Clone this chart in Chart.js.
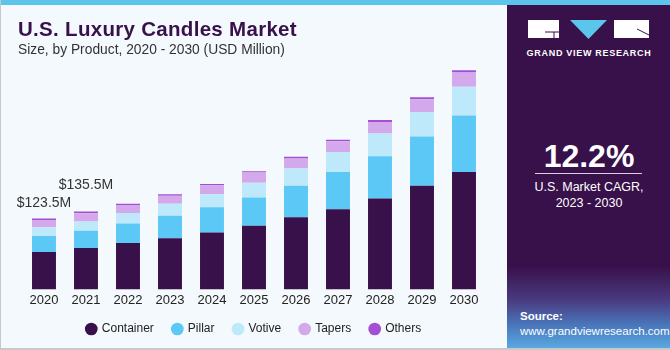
<!DOCTYPE html>
<html>
<head>
<meta charset="utf-8">
<script src="https://cdn.jsdelivr.net/npm/chart.js@4/dist/chart.umd.min.js"></script>
<style>
  html,body{margin:0;padding:0;}
  body{width:670px;height:350px;overflow:hidden;font-family:"Liberation Sans",Arial,sans-serif;}
  #wrap{position:relative;width:670px;height:350px;background:#f4f9fd;box-sizing:border-box;border-left:1px solid #c8c8c8;border-bottom:2px solid #c8c8c8;}
  #stripe{position:absolute;left:0;top:0;width:670px;height:5px;background:#5bc5ec;}
  #title{position:absolute;left:17px;top:17px;font-family:"Liberation Sans",Arial,sans-serif;font-weight:bold;font-size:20.5px;color:#38104a;letter-spacing:0.3px;}
  #sub{position:absolute;left:17px;top:42px;font-size:13.8px;color:#333;}
  #panel{position:absolute;left:506px;top:5px;width:164px;height:343px;background:linear-gradient(to bottom,#38104a 0%,#38104a 76%,#4a3a80 86%,#4a7cc0 94%,#5aa8e0 100%);}
  #chartbox{position:absolute;left:0;top:0;width:505px;height:348px;}
  .w{position:absolute;color:#fff;}
</style>
</head>
<body>
<div id="wrap">
  <div id="chartbox"><canvas id="c" width="505" height="348"></canvas></div>
  <div id="stripe"></div>
  <div id="title">U.S. Luxury Candles Market</div>
  <div id="sub">Size, by Product, 2020 - 2030 (USD Million)</div>
  <div id="panel">
    <svg width="164" height="60" style="position:absolute;left:0;top:0">
      <rect x="21" y="15" width="31" height="18" fill="#fff"/>
      <line x1="38" y1="27" x2="52" y2="27" stroke="#38104a" stroke-width="1"/>
      <line x1="47" y1="27" x2="47" y2="33" stroke="#38104a" stroke-width="1"/>
      <polygon points="63,15 100,15 81.5,34" fill="#5bc5ec"/>
      <rect x="107" y="15" width="35" height="18" fill="#fff"/>
      <line x1="130" y1="24" x2="142" y2="30" stroke="#38104a" stroke-width="1"/>
    </svg>
    <div class="w" style="left:0;width:164px;top:43px;text-align:center;font-size:9px;font-weight:bold;letter-spacing:0.7px;">GRAND VIEW RESEARCH</div>
    <div class="w" style="left:0;width:164px;top:133px;text-align:center;font-size:32px;font-weight:bold;">12.2%</div>
    <div style="position:absolute;left:28px;width:107px;top:168px;height:1px;background:#d8cfe0;"></div>
    <div class="w" style="left:0;width:164px;top:174px;text-align:center;font-size:12.5px;line-height:16px;">U.S. Market CAGR,<br>2023 - 2030</div>
    <div class="w" style="left:13px;top:305px;font-size:11.5px;font-weight:bold;">Source:</div>
    <div class="w" style="left:13px;top:320px;font-size:11.5px;">www.grandviewresearch.com</div>
  </div>
</div>
<script>
const years = ["2020","2021","2022","2023","2024","2025","2026","2027","2028","2029","2030"];
const container = [65.2, 72.0, 80.6, 89.2, 99.0, 111.0, 125.7, 139.4, 158.3, 180.6, 204.6];
const pillar    = [28.0, 30.3, 34.3, 38.9, 43.9, 49.0, 54.9, 65.2, 73.7, 85.8, 98.4];
const votive    = [15.0, 16.0, 18.3, 21.1, 23.0, 25.7, 29.8, 34.3, 39.4, 42.4, 49.7];
const tapers    = [12.5, 14.4, 13.7, 13.7, 15.4, 17.8, 17.7, 18.9, 20.0, 22.3, 25.0];
const others    = [2.8, 2.8, 2.3, 2.9, 2.3, 2.3, 2.9, 2.9, 3.4, 3.4, 4.1];
const annotations = [{index:0, text:"$123.5M", dy:15}, {index:1, text:"$135.5M", dy:26}];

const colors = ["#38104a","#5bc8f5","#bde9fa","#d4a9ec","#a24fd6"];
const names = ["Container","Pillar","Votive","Tapers","Others"];
const series = [container, pillar, votive, tapers, others];

const annPlugin = {
  id:'ann',
  afterInit(chart){
    const l = chart.legend;
    if (l) {
      const orig = l.fit.bind(l);
      l.fit = function(){ orig(); this.height -= 3; };
    }
  },
  afterDatasetsDraw(chart){
    const ctx = chart.ctx;
    const x = chart.scales.x, y = chart.scales.y;
    ctx.save();
    ctx.font = '14px "Liberation Sans", Arial, sans-serif';
    ctx.fillStyle = '#333';
    ctx.textAlign = 'center';
    ctx.textBaseline = 'middle';
    annotations.forEach(a=>{
      let total = 0; series.forEach(s=> total += s[a.index]);
      ctx.fillText(a.text, x.getPixelForValue(a.index), y.getPixelForValue(total) - a.dy);
    });
    ctx.restore();
  }
};

new Chart(document.getElementById('c'), {
  type:'bar',
  data:{
    labels: years,
    datasets: series.map((s,i)=>({
      label:names[i], data:s, backgroundColor:colors[i],
      borderWidth:0, barPercentage:0.57, categoryPercentage:1.0
    }))
  },
  options:{
    responsive:false, animation:false,
    layout:{padding:{left:22, right:21, top:62, bottom:6}},
    scales:{
      x:{stacked:true, grid:{display:false, drawTicks:false}, border:{display:false},
         afterFit(scale){ scale.height -= 7; },
         ticks:{color:'#222', font:{size:13, family:'"Liberation Sans", Arial, sans-serif'}, padding:3}},
      y:{stacked:true, display:false, min:0, max:396}
    },
    plugins:{
      legend:{position:'bottom',
        labels:{usePointStyle:true, pointStyle:'circle', boxWidth:9, boxHeight:9, padding:19, color:'#222',
          font:{size:12, family:'"Liberation Sans", Arial, sans-serif'}}},
      tooltip:{enabled:false}
    }
  },
  plugins:[annPlugin]
});
</script>
</body>
</html>
